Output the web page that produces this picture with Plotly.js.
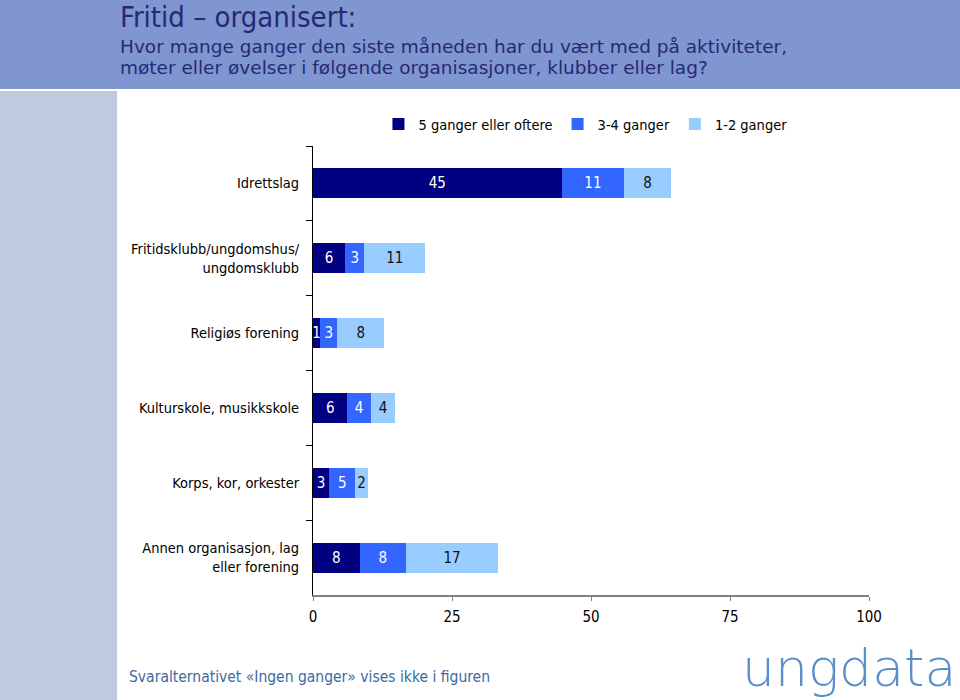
<!DOCTYPE html>
<html>
<head>
<meta charset="utf-8">
<script src="https://cdn.plot.ly/plotly-3.0.1.min.js"></script>
<style>
  html, body { margin: 0; padding: 0; background: #ffffff; }
  #chart { width: 960px; height: 700px; }
</style>
</head>
<body>
<div id="chart"></div>
<script>
// ---- data ----
const categories = [
  'Idrettslag',
  'Fritidsklubb/ungdomshus/<br>ungdomsklubb',
  'Religiøs forening',
  'Kulturskole, musikkskole',
  'Korps, kor, orkester',
  'Annen organisasjon, lag<br>eller forening'
];
const seriesNames = ['5 ganger eller oftere', '3-4 ganger', '1-2 ganger'];
const often = [44.7, 5.8, 1.3, 6.2, 2.9, 8.4];
const some  = [11.3, 3.4, 3.1, 4.2, 4.7, 8.3];
const few   = [8.3, 11.0, 8.4, 4.4, 2.3, 16.6];
const xTicks = [0, 25, 50, 75, 100];

const titleText = 'Fritid – organisert:';
const subtitleLines = [
  'Hvor mange ganger den siste måneden har du vært med på aktiviteter,',
  'møter eller øvelser i følgende organisasjoner, klubber eller lag?'
];
const footerText = 'Svaralternativet «Ingen ganger» vises ikke i figuren';
const logoText = 'ungdata';

// ---- layout geometry ----
const W = 960, H = 700;
const M = { l: 313, r: 91, t: 146, b: 105 };
const PW = W - M.l - M.r, PH = H - M.t - M.b;
const px = x => (x - M.l) / PW;
const py = y => 1 - (y - M.t) / PH;

const FONT = '"DejaVu Sans Condensed", "Liberation Sans", sans-serif';
const WIDE = '"DejaVu Sans", "Liberation Sans", sans-serif';
const colors = ['#000080', '#3366ff', '#99ccff'];
const textColors = ['#ffffff', '#ffffff', '#111111'];
const values = [often, some, few];

const traces = values.map((v, i) => ({
  type: 'bar',
  orientation: 'h',
  name: seriesNames[i],
  y: categories,
  x: v,
  marker: { color: colors[i], line: { width: 0 } },
  texttemplate: '%{x:.0f}',
  textposition: 'inside',
  insidetextanchor: 'middle',
  constraintext: 'none',
  textangle: 0,
  textfont: { family: FONT, size: 15, color: textColors[i] },
  hoverinfo: 'skip'
}));

const subtitleAnns = subtitleLines.map((t, i) => ({
  xref: 'paper', yref: 'paper', x: px(118), y: py(47 + 21 * i),
  xanchor: 'left', yanchor: 'middle', text: t, showarrow: false, align: 'left',
  font: { family: WIDE, size: 18.5, color: '#262a73' }
}));

const layout = {
  width: W, height: H,
  margin: M,
  paper_bgcolor: '#ffffff',
  plot_bgcolor: '#ffffff',
  barmode: 'stack',
  bargap: 0.6,
  font: { family: FONT, size: 14, color: '#000000' },
  showlegend: true,
  legend: {
    orientation: 'h',
    x: 0.49, xanchor: 'center',
    y: py(124), yanchor: 'middle',
    font: { family: FONT, size: 14.5, color: '#000000' },
    traceorder: 'normal',
    itemwidth: 30
  },
  xaxis: {
    range: [0, 100],
    tickvals: xTicks,
    ticktext: xTicks.map(String),
    showgrid: false,
    zeroline: false,
    showline: true,
    linecolor: '#7f7f7f',
    linewidth: 2,
    ticks: 'outside',
    ticklen: 4,
    tickcolor: '#7f7f7f',
    tickfont: { family: FONT, size: 15, color: '#000000' },
    ticklabelstandoff: 3,
    fixedrange: true
  },
  yaxis: {
    type: 'category',
    autorange: 'reversed',
    showgrid: false,
    zeroline: false,
    showline: true,
    linecolor: '#000000',
    linewidth: 1,
    ticks: 'outside',
    tickson: 'boundaries',
    ticklen: 6,
    tickcolor: '#000000',
    tickfont: { family: FONT, size: 14.5, color: '#000000' },
    ticklabelstandoff: 10,
    fixedrange: true
  },
  shapes: [
    { type: 'rect', xref: 'paper', yref: 'paper', layer: 'below',
      x0: px(0), x1: px(W), y0: py(0), y1: py(89),
      fillcolor: '#7f96d1', line: { width: 0 } },
    { type: 'rect', xref: 'paper', yref: 'paper', layer: 'below',
      x0: px(0), x1: px(117), y0: py(91), y1: py(H),
      fillcolor: '#c0cadf', line: { width: 0 } }
  ],
  annotations: [
    { xref: 'paper', yref: 'paper', x: px(118), y: py(17), xanchor: 'left', yanchor: 'middle',
      text: titleText, showarrow: false, align: 'left',
      font: { family: FONT, size: 29, color: '#262a73' } },
    ...subtitleAnns,
    { xref: 'paper', yref: 'paper', x: px(127), y: py(677), xanchor: 'left', yanchor: 'middle',
      text: footerText, showarrow: false, align: 'left',
      font: { family: FONT, size: 15.5, color: '#3c6aa0' } },
    { xref: 'paper', yref: 'paper', x: px(958), y: py(668), xanchor: 'right', yanchor: 'middle',
      text: logoText, showarrow: false,
      font: { family: '"DejaVu Sans ExtraLight", "DejaVu Sans", sans-serif', size: 52, color: '#5b8fcb', weight: 200 } }
  ]
};

Plotly.newPlot('chart', traces, layout, { displayModeBar: false, staticPlot: true });
</script>
</body>
</html>
